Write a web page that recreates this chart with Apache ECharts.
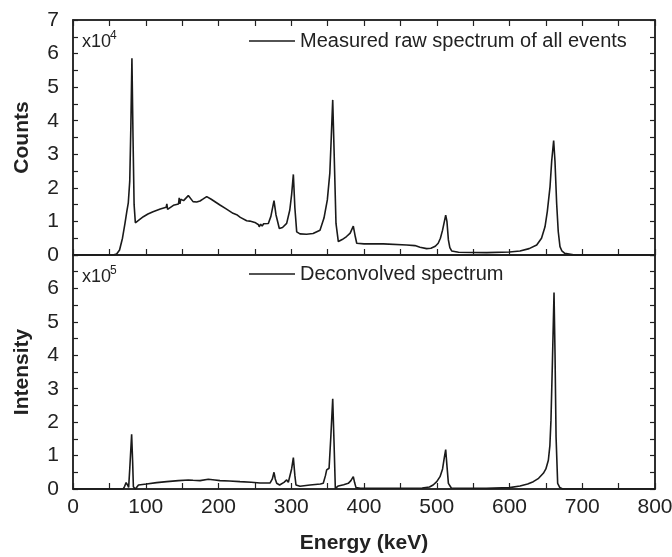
<!DOCTYPE html>
<html>
<head>
<meta charset="utf-8">
<script src="https://cdn.jsdelivr.net/npm/echarts@6/dist/echarts.min.js"></script>
<style>
  html, body { margin: 0; padding: 0; background: #fff; }
  #chart { width: 672px; height: 557px; }
</style>
</head>
<body>
<div id="chart"></div>
<script>
// measured raw spectrum (counts, x10^4)
var rawEnergy = [0, 40, 55, 60, 64, 68, 71.5, 74, 76, 78, 79.5, 81, 82.5, 84, 85.7, 90, 96.7, 103, 110, 120,
    128, 129, 130, 138, 145, 146, 147, 148, 152, 158.5, 165, 170, 174.6, 179, 183.8, 190, 202, 210, 220, 225,
    230, 238.7, 243, 250, 255, 256, 258, 260, 262, 264, 268.5, 272, 276.3, 279, 283.6, 288, 293.7, 298, 300.5, 302.9,
    305, 307.5, 312, 321, 330, 339.5, 345, 349.6, 353, 355, 357, 359, 361.5, 364.7, 370, 376, 381, 385.3, 388, 390,
    400, 426.5, 458.7, 470, 477, 486, 492, 498, 502, 505, 508, 512.3, 514, 516, 518, 520.5, 530, 568.6, 600, 614.4,
    627, 637.4, 644, 648.8, 652, 655.7, 658, 660.7, 662.5, 664.8, 667, 669.4, 672, 676, 690, 800];
var rawCounts = [0, 0, 0, 0.03, 0.15, 0.5, 0.95, 1.3, 1.55, 2.2, 3.8, 5.86, 3.5, 1.5, 0.96, 1.03, 1.14, 1.22, 1.29, 1.37,
    1.42, 1.52, 1.36, 1.48, 1.52, 1.70, 1.52, 1.66, 1.62, 1.77, 1.59, 1.58, 1.61, 1.67, 1.74, 1.66, 1.49, 1.38, 1.24, 1.20,
    1.12, 1.02, 1.01, 0.97, 0.90, 0.84, 0.92, 0.86, 0.93, 0.89, 0.94, 1.15, 1.62, 1.2, 0.79, 0.82, 0.94, 1.34, 1.8, 2.40,
    1.4, 0.69, 0.63, 0.62, 0.64, 0.74, 1.1, 1.64, 2.43, 3.5, 4.62, 3.0, 0.94, 0.40, 0.46, 0.55, 0.65, 0.86, 0.55, 0.35,
    0.33, 0.33, 0.30, 0.28, 0.23, 0.19, 0.2, 0.26, 0.35, 0.5, 0.74, 1.19, 1.0, 0.45, 0.22, 0.12, 0.08, 0.07, 0.09, 0.12,
    0.19, 0.30, 0.5, 0.84, 1.3, 2.03, 2.8, 3.41, 2.8, 1.54, 0.7, 0.25, 0.12, 0.05, 0, 0];

// deconvolved spectrum (intensity, x10^5)
var decEnergy = [0, 69, 71, 73, 75, 76.5, 78, 80.6, 82, 83, 85.7, 88, 90, 101, 115, 128.8, 145, 158.5, 165, 174.6,
    186, 195, 202, 215, 229.6, 245, 257, 271, 274, 276.3, 278, 280, 284, 290, 293.7, 296, 298, 300.5, 302.9, 305,
    306.5, 312, 325.8, 340, 344, 347, 348.7, 350.5, 352, 354.5, 357, 358.8, 360.6, 364.7, 372, 378.4, 382, 385.3, 387, 389,
    395, 480, 490, 495, 500, 504.5, 508, 510.5, 512.3, 514, 516, 520, 568, 600, 614.4, 625, 632.7, 640, 646.5, 650,
    653.4, 655.5, 657, 659, 661.2, 662.6, 664, 666.2, 669, 673, 800];
var decIntensity = [0, 0, 0.08, 0.19, 0.12, 0.05, 0.6, 1.64, 0.8, 0.07, 0, 0.02, 0.12, 0.15, 0.19, 0.22, 0.25, 0.27, 0.26, 0.25,
    0.29, 0.27, 0.25, 0.24, 0.22, 0.2, 0.18, 0.18, 0.3, 0.50, 0.3, 0.17, 0.12, 0.2, 0.27, 0.2, 0.22, 0.6, 0.94, 0.4,
    0.12, 0.08, 0.12, 0.15, 0.17, 0.4, 0.57, 0.55, 0.62, 1.6, 2.70, 1.4, 0.02, 0.09, 0.13, 0.17, 0.25, 0.37, 0.2, 0.04,
    0.02, 0.03, 0.06, 0.12, 0.22, 0.37, 0.6, 0.95, 1.18, 0.7, 0.17, 0.03, 0.02, 0.04, 0.09, 0.15, 0.22, 0.32, 0.47, 0.6,
    0.86, 1.3, 2.06, 3.8, 5.88, 4.0, 1.56, 0.17, 0.05, 0, 0];

var xTicks = [0, 100, 200, 300, 400, 500, 600, 700, 800];
var rawName = 'Measured raw spectrum of all events';
var decName = 'Deconvolved spectrum';

function pairs(xs, ys) {
    var out = [];
    for (var i = 0; i < xs.length; i++) out.push([xs[i], ys[i]]);
    return out;
}

var FONT = '"Liberation Sans", Arial, sans-serif';
var INK = '#222';

function xAx(grid, pos, labels) {
    return {
        type: 'value', gridIndex: grid, position: pos, min: 0, max: 800, interval: 50,
        axisLine: { show: true, onZero: false, lineStyle: { color: INK, width: 1.5 } },
        axisTick: { show: true, inside: true, length: 6, lineStyle: { color: INK, width: 1.2 } },
        axisLabel: {
            show: labels, margin: 8, color: INK, fontSize: 21, fontFamily: FONT,
            formatter: function (v) { return xTicks.indexOf(v) >= 0 ? v : ''; }
        },
        splitLine: { show: false }
    };
}

function yAx(grid, pos, labels, hideTop) {
    return {
        type: 'value', gridIndex: grid, position: pos, min: 0, max: 7, interval: 0.5,
        axisLine: { show: true, onZero: false, lineStyle: { color: INK, width: 1.5 } },
        axisTick: { show: true, inside: true, length: 5, lineStyle: { color: INK, width: 1.2 } },
        axisLabel: {
            show: labels, margin: 14, color: INK, fontSize: 21, fontFamily: FONT,
            formatter: function (v) {
                if (v % 1 !== 0) return '';
                if (hideTop && v === 7) return '';
                return v;
            }
        },
        splitLine: { show: false }
    };
}

var chart = echarts.init(document.getElementById('chart'));

var xa0 = xAx(0, 'bottom', false);
var xa1 = xAx(0, 'top', false);
var xa2 = xAx(1, 'bottom', true);
xa2.name = 'Energy (keV)';
xa2.nameLocation = 'middle';
xa2.nameGap = 44;
xa2.nameTextStyle = { fontSize: 21, fontWeight: 'bold', color: INK, fontFamily: FONT };

var ya0 = yAx(0, 'left', true, false);
ya0.name = 'Counts';
ya0.nameLocation = 'middle';
ya0.nameGap = 40;
ya0.nameTextStyle = { fontSize: 21, fontWeight: 'bold', color: INK, fontFamily: FONT };
var ya1 = yAx(0, 'right', false, false);
var ya2 = yAx(1, 'left', true, true);
ya2.name = 'Intensity';
ya2.nameLocation = 'middle';
ya2.nameGap = 40;
ya2.nameTextStyle = { fontSize: 21, fontWeight: 'bold', color: INK, fontFamily: FONT };
var ya3 = yAx(1, 'right', false, false);

var option = {
    animation: false,
    backgroundColor: '#fff',
    grid: [
        { left: 73, width: 582, top: 20, height: 235, outerBoundsMode: 'none', containLabel: false,
          show: true, borderColor: INK, borderWidth: 1.5, backgroundColor: 'transparent' },
        { left: 73, width: 582, top: 255, height: 234, outerBoundsMode: 'none', containLabel: false,
          show: true, borderColor: INK, borderWidth: 1.5, backgroundColor: 'transparent' }
    ],
    xAxis: [xa0, xa1, xa2],
    yAxis: [ya0, ya1, ya2, ya3],
    legend: [
        {
            data: [rawName], left: 249, top: 31, padding: 0,
            icon: 'rect', itemWidth: 46, itemHeight: 1.5,
            textStyle: { fontSize: 20, color: INK, fontFamily: FONT }
        },
        {
            data: [decName], left: 249, top: 264, padding: 0,
            icon: 'rect', itemWidth: 46, itemHeight: 1.5,
            textStyle: { fontSize: 20, color: INK, fontFamily: FONT }
        }
    ],
    graphic: [
        { type: 'text', left: 82, top: 33, style: { text: 'x10', font: '18px ' + FONT, fill: INK } },
        { type: 'text', left: 110, top: 30, style: { text: '4', font: '12px ' + FONT, fill: INK } },
        { type: 'text', left: 82, top: 268, style: { text: 'x10', font: '18px ' + FONT, fill: INK } },
        { type: 'text', left: 110, top: 265, style: { text: '5', font: '12px ' + FONT, fill: INK } }
    ],
    series: [
        {
            name: rawName, type: 'line', xAxisIndex: 0, yAxisIndex: 0,
            data: pairs(rawEnergy, rawCounts), showSymbol: false,
            lineStyle: { color: '#1a1a1a', width: 1.6 }, itemStyle: { color: '#1a1a1a' }
        },
        {
            name: decName, type: 'line', xAxisIndex: 2, yAxisIndex: 2,
            data: pairs(decEnergy, decIntensity), showSymbol: false,
            lineStyle: { color: '#1a1a1a', width: 1.6 }, itemStyle: { color: '#1a1a1a' }
        }
    ]
};

chart.setOption(option);
</script>
</body>
</html>
